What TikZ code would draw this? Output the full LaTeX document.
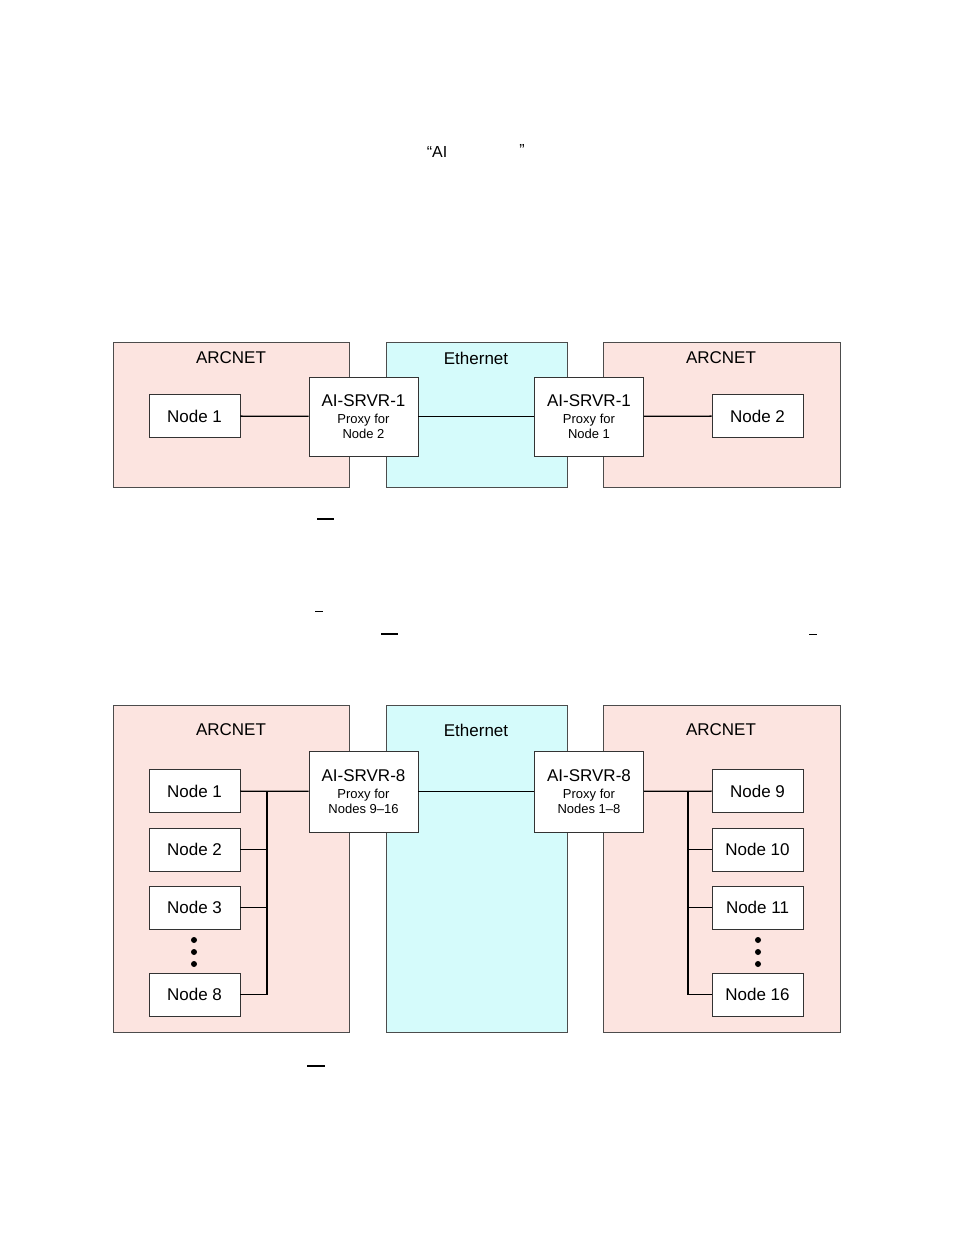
\documentclass[tikz,border=0pt]{standalone}
\usepackage{fontspec}
\setmainfont{Liberation Sans}
\begin{document}
\begin{tikzpicture}[x=1pt,y=-1pt,
  net/.style={draw=black!70,line width=0.8pt},
  pinkbox/.style={net,fill=arcpink},
  cyanbox/.style={net,fill=ethcyan},
  nodebox/.style={draw=black!80,fill=white,line width=0.8pt,minimum width=91pt,minimum height=43pt,font=\fontsize{17}{20}\selectfont},
  srvbox/.style={draw=black!80,fill=white,line width=0.8pt,minimum width=109pt,minimum height=79pt,align=center,font=\fontsize{13}{15}\selectfont},
  ttl/.style={font=\fontsize{17}{20}\selectfont},
  ln/.style={line width=1.3pt}]
\definecolor{arcpink}{HTML}{FCE4E0}
\definecolor{ethcyan}{HTML}{D5FBFB}
\useasboundingbox (0,0) rectangle (954,1235);
% stray fragments
\node[font=\fontsize{16}{18}\selectfont] (fa) at (437,152) {“AI};
\node[font=\fontsize{16}{18}\selectfont] (fb) at (522,150) {”};
\draw[line width=1.2pt] (317,519) -- (334,519);
\draw[line width=1pt] (315,611) -- (323,611);
\draw[line width=1.2pt] (381,634) -- (398,634);
\draw[line width=1pt] (809,634) -- (817,634);
\draw[line width=1.2pt] (307,1066) -- (325,1066);
% top
\draw[pinkbox] (113,342) rectangle (349,487);
\draw[cyanbox] (386,342) rectangle (567,487);
\draw[pinkbox] (603,342) rectangle (840,487);
\node[ttl] (t1) at (231,358) {ARCNET};
\node[ttl] (t2) at (476,358) {Ethernet};
\node[ttl] (t3) at (721,358) {ARCNET};
\node[nodebox] (a1) at (194.5,416) {Node 1};
\node[nodebox] (a2) at (757.5,416) {Node 2};
\node[srvbox] (s1) at (363.5,416.5) {\fontsize{17}{20}\selectfont AI-SRVR-1\\[2pt]Proxy for\\Node 2};
\node[srvbox] (s2) at (589,416.5) {\fontsize{17}{20}\selectfont AI-SRVR-1\\[2pt]Proxy for\\Node 1};
\draw[ln] (a1) -- (s1);
\draw[ln] (s1) -- (s2);
\draw[ln] (s2) -- (a2);
% bottom
\draw[pinkbox] (113,705) rectangle (349,1032);
\draw[cyanbox] (386,705) rectangle (567,1032);
\draw[pinkbox] (603,705) rectangle (840,1032);
\node[ttl] (u1) at (231,730) {ARCNET};
\node[ttl] (u2) at (476,730) {Ethernet};
\node[ttl] (u3) at (721,730) {ARCNET};
\node[srvbox,minimum height=81pt] (r1) at (363.5,791.5) {\fontsize{17}{20}\selectfont AI-SRVR-8\\[2pt]Proxy for\\Nodes 9–16};
\node[srvbox,minimum height=81pt] (r2) at (589,791.5) {\fontsize{17}{20}\selectfont AI-SRVR-8\\[2pt]Proxy for\\Nodes 1–8};
\node[nodebox] (l1) at (194.5,791) {Node 1};
\node[nodebox] (l2) at (194.5,849.5) {Node 2};
\node[nodebox] (l3) at (194.5,907.5) {Node 3};
\node[nodebox] (l8) at (194.5,994.5) {Node 8};
\node[nodebox] (m9) at (757.5,791) {Node 9};
\node[nodebox] (m10) at (757.5,849.5) {Node 10};
\node[nodebox] (m11) at (757.5,907.5) {Node 11};
\node[nodebox] (m16) at (757.5,994.5) {Node 16};
\coordinate (bl) at (267,791);
\coordinate (br) at (688,791);
\draw[ln] (l1) -- (r1);
\draw[ln] (r1) -- (r2);
\draw[ln] (r2) -- (m9);
\draw[ln] (bl) |- (l8.east);
\draw[ln] (bl |- l2.east) -- (l2.east);
\draw[ln] (bl |- l3.east) -- (l3.east);
\draw[ln] (br) |- (m16.west);
\draw[ln] (br |- m10.west) -- (m10.west);
\draw[ln] (br |- m11.west) -- (m11.west);
\foreach \y in {940,952,964}{\fill (194,\y) circle (3pt); \fill (758,\y) circle (3pt);}
\end{tikzpicture}
\end{document}
